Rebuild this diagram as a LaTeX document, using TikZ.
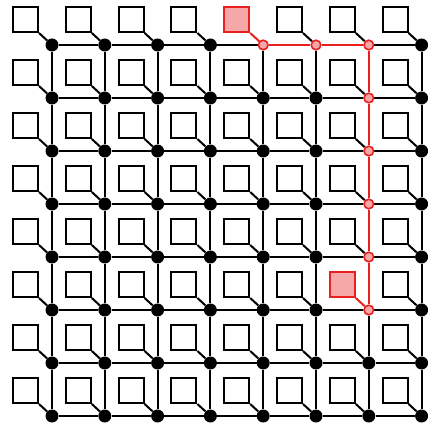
\documentclass[tikz,border=0pt]{standalone}
\usetikzlibrary{backgrounds}
\definecolor{pathred}{RGB}{232,32,32}
\definecolor{pathfill}{RGB}{246,168,168}
\tikzset{
  router/.style={circle,fill=black,inner sep=0pt,minimum size=13pt},
  redrouter/.style={draw=pathred,fill=pathfill,line width=1.6pt,minimum size=9.6pt},
  pe/.style={draw=black,line width=2pt,fill=white,minimum size=25pt,inner sep=0pt},
  redpe/.style={draw=pathred,fill=pathfill},
  link/.style={line width=2pt,draw=black},
  redlink/.style={draw=pathred},
  rs-4-0/.style={redrouter}, rs-5-0/.style={redrouter}, rs-6-0/.style={redrouter},
  rs-6-1/.style={redrouter}, rs-6-2/.style={redrouter}, rs-6-3/.style={redrouter},
  rs-6-4/.style={redrouter}, rs-6-5/.style={redrouter},
  ps-4-0/.style={redpe}, ps-6-5/.style={redpe},
  ds-4-0/.style={redlink}, ds-6-5/.style={redlink},
  hs-4-0/.style={redlink}, hs-5-0/.style={redlink},
  vs-6-0/.style={redlink}, vs-6-1/.style={redlink}, vs-6-2/.style={redlink},
  vs-6-3/.style={redlink}, vs-6-4/.style={redlink}
}
\begin{document}
\begin{tikzpicture}[x=1pt,y=-1pt]
\useasboundingbox (0,0) rectangle (428,427);
\foreach \i in {0,...,7} {
  \foreach \j in {0,...,7} {
    \node[router,rs-\i-\j/.try] (r-\i-\j) at ({52+52.8*\i},{45+53*\j}) {};
    \node[pe,ps-\i-\j/.try] (p-\i-\j) at ({52+52.8*\i-26.5},{45+53*\j-25.5}) {};
  }
}
\begin{scope}[on background layer]
\foreach \i [evaluate=\i as \k using int(\i+1)] in {0,...,6} {
  \foreach \j in {0,...,7} {
    \draw[link,hs-\i-\j/.try] (r-\i-\j) -- (r-\k-\j);
    \draw[link,vs-\j-\i/.try] (r-\j-\i) -- (r-\j-\k);
  }
}
\foreach \i in {0,...,7} {
  \foreach \j in {0,...,7} {
    \draw[link,ds-\i-\j/.try] (p-\i-\j.south east) -- (r-\i-\j);
  }
}
\end{scope}
\end{tikzpicture}
\end{document}
